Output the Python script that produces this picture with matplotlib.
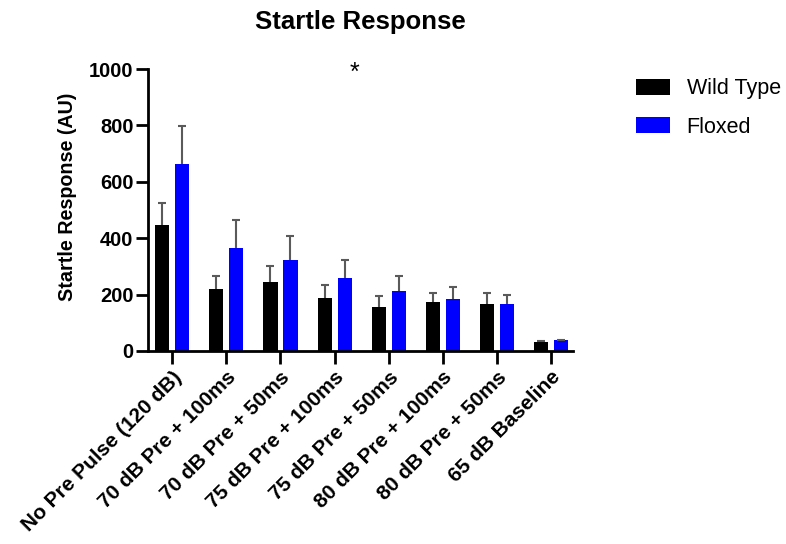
import matplotlib.pyplot as plt
import numpy as np

plt.rcParams['font.family'] = ['Liberation Sans', 'DejaVu Sans']

# data
categories = ['No Pre Pulse (120 dB)', '70 dB Pre + 100ms', '70 dB Pre + 50ms',
              '75 dB Pre + 100ms', '75 dB Pre + 50ms', '80 dB Pre + 100ms',
              '80 dB Pre + 50ms', '65 dB Baseline']
wild_type = [447, 219, 244, 188, 155, 174, 168, 32]
wild_type_err = [78, 47, 58, 45, 39, 32, 38, 4]
floxed = [663, 365, 324, 259, 212, 185, 166, 37]
floxed_err = [136, 101, 82, 63, 54, 41, 33, 3]

x = np.arange(len(categories))
w = 0.26
off = 0.185

fig = plt.figure(figsize=(7.86, 5.44), dpi=100)
ax = fig.add_axes([0.1883, 0.355, 0.5407, 0.518])

err_kw = dict(ecolor='#5a5a5a', elinewidth=1.5, capsize=3, capthick=1.5)
b1 = ax.bar(x - off, wild_type, w, color='black',
            yerr=[np.zeros(len(x)), wild_type_err], error_kw=err_kw, label='Wild Type')
b2 = ax.bar(x + off, floxed, w, color='#0000ff',
            yerr=[np.zeros(len(x)), floxed_err], error_kw=err_kw, label='Floxed')
# only the upper caps
for b in (b1, b2):
    b.errorbar.lines[1][0].set_visible(False)

ax.set_xlim(-0.45, 7.41)
ax.set_ylim(0, 1000)
ax.set_yticks([0, 200, 400, 600, 800, 1000])
ax.set_xticks(x)
ax.set_xticklabels(categories, rotation=45, ha='right', rotation_mode='anchor',
                   fontsize=15, fontweight='bold')
for lab in ax.get_yticklabels():
    lab.set_fontweight('bold')
    lab.set_fontsize(14.5)

for s in ['top', 'right']:
    ax.spines[s].set_visible(False)
for s in ['left', 'bottom']:
    ax.spines[s].set_linewidth(2)
ax.tick_params(axis='y', width=2, length=8.5, pad=2)
ax.tick_params(axis='x', width=2, length=9, pad=3)

ax.set_ylabel('Startle Response (AU)', fontsize=14.2, fontweight='bold')
ax.yaxis.set_label_coords(-0.168, 0.546)
ax.set_title('Startle Response', fontsize=18.5, fontweight='bold', pad=29)

ax.text(3.37, 985, '*', fontsize=18, ha='center', va='center')

fig.legend(loc='upper left', bbox_to_anchor=(0.784, 0.8915), frameon=False,
           fontsize=15.5, handlelength=1.58, handleheight=0.79,
           labelspacing=0.8, handletextpad=0.79)

fig.savefig('out.png', dpi=100)
